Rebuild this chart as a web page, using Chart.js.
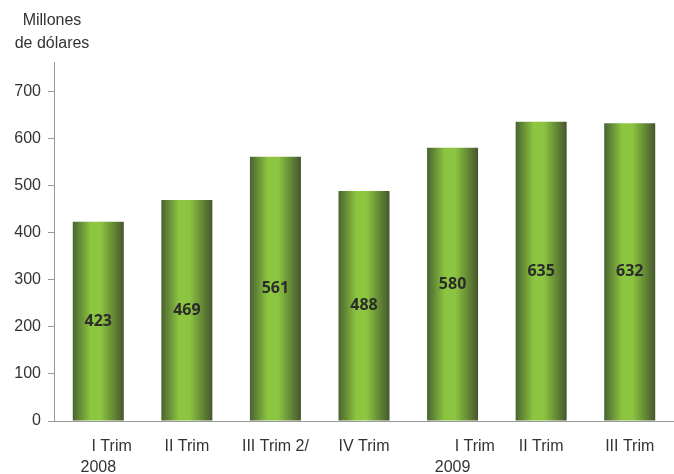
<!DOCTYPE html>
<html>
<head>
<meta charset="utf-8">
<script src="https://cdn.jsdelivr.net/npm/chart.js@4"></script>
<style>
  body { margin: 0; background: #fff; }
  canvas { display: block; }
</style>
</head>
<body>
<canvas id="exportChart" width="674" height="474"></canvas>
<script>
// Data
const quarters = [['      I Trim', '2008'], 'II Trim', 'III Trim 2/', 'IV Trim', ['          I Trim', '2009'], 'II Trim', 'III Trim'];
const amounts = [423, 469, 561, 488, 580, 635, 632];
const unitLines = ['Millones', 'de dólares'];

const FONT = '"Liberation Sans", Arial, sans-serif';

// paints each bar with a horizontal cylinder-like gradient
const barShade = {
    id: 'barShade',
    beforeDatasetsDraw(chart) {
        const c = chart.ctx;
        chart.getDatasetMeta(0).data.forEach(bar => {
            const g = c.createLinearGradient(bar.x - bar.width / 2, 0, bar.x + bar.width / 2, 0);
            g.addColorStop(0, '#4a6331');
            g.addColorStop(0.35, '#8cc540');
            g.addColorStop(0.55, '#8cc540');
            g.addColorStop(1, '#45572d');
            // own copy so bars don't share the same options object
            bar.options = Object.assign({}, bar.options, { backgroundColor: g });
        });
    }
};

// value labels inside bars + unit text at top left
const labelsPlugin = {
    id: 'labelsPlugin',
    afterDatasetsDraw(chart) {
        const c = chart.ctx;
        c.save();
        c.font = 'bold 16px "Open Sans", sans-serif';
        c.fillStyle = '#2b2b2b';
        c.textAlign = 'center';
        c.textBaseline = 'middle';
        chart.getDatasetMeta(0).data.forEach((bar, i) => {
            c.fillText(amounts[i], bar.x, (bar.y + bar.base) / 2);
        });
        c.font = '16px ' + FONT;
        c.fillStyle = '#333';
        unitLines.forEach((t, i) => c.fillText(t, 52, 21 + i * 23));
        c.restore();
    }
};

const ctx = document.getElementById('exportChart').getContext('2d');
const exportChart = new Chart(ctx, {
    type: 'bar',
    data: {
        labels: quarters,
        datasets: [{
            data: amounts,
            backgroundColor: '#8cc540',
            barPercentage: 0.576,
            categoryPercentage: 1
        }]
    },
    options: {
        responsive: false,
        animation: false,
        layout: { padding: { top: 62, left: 0, right: 0, bottom: 0 } },
        plugins: { legend: { display: false }, tooltip: { enabled: false } },
        scales: {
            x: {
                grid: { display: false },
                border: { color: '#999' },
                ticks: { color: '#333', font: { family: FONT, size: 16, lineHeight: 1.3 }, padding: 7, maxRotation: 0, autoSkip: false },
                afterFit: s => { s.height = 53; }
            },
            y: {
                min: 0,
                max: 762,
                grid: { drawOnChartArea: false, color: '#999', tickLength: 6 },
                border: { color: '#999' },
                ticks: { stepSize: 100, color: '#333', font: { family: FONT, size: 16 }, padding: 7 },
                afterBuildTicks: s => { s.ticks = s.ticks.filter(t => t.value % 100 === 0); },
                afterFit: s => { s.width = 54; }
            }
        }
    },
    plugins: [barShade, labelsPlugin]
});
</script>
</body>
</html>
